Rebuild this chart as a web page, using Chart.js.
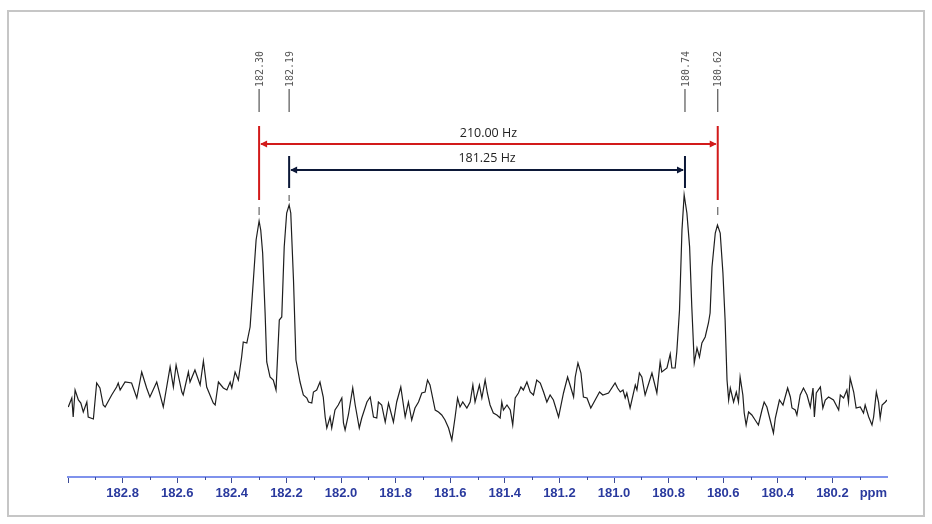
<!DOCTYPE html>
<html lang="en">
<head>
  <meta charset="UTF-8">
  <title>13C NMR</title>
  <script src="https://cdn.jsdelivr.net/npm/chart.js"></script>
  <style>
    html, body { margin: 0; padding: 0; background: #fff; }
    #wrap { position: relative; width: 932px; height: 524px; }
    #frame { position: absolute; left: 7px; top: 10px; width: 914px; height: 503px; border: 2px solid #c6c6c6; pointer-events: none; }
    canvas { position: absolute; left: 0; top: 0; }
  </style>
</head>
<body>
<div id="wrap">
  <canvas id="nmr" width="932" height="524"></canvas>
  <div id="frame"></div>
</div>
<script>
  // chemical shift (ppm) and intensity
  const ppm = [
    182.999, 182.986, 182.981, 182.974, 182.962, 182.953, 182.944, 182.931, 182.926, 182.907,
    182.895, 182.883, 182.871, 182.864, 182.840, 182.822, 182.816, 182.809, 182.791, 182.767,
    182.748, 182.730, 182.712, 182.700, 182.675, 182.651, 182.626, 182.614, 182.604, 182.583,
    182.578, 182.559, 182.553, 182.535, 182.516, 182.504, 182.492, 182.468, 182.461, 182.449,
    182.431, 182.418, 182.406, 182.400, 182.388, 182.376, 182.364, 182.358, 182.345, 182.333,
    182.321, 182.311, 182.300, 182.294, 182.287, 182.278, 182.272, 182.260, 182.248, 182.238,
    182.226, 182.217, 182.208, 182.199, 182.190, 182.184, 182.174, 182.165, 182.150, 182.138,
    182.125, 182.119, 182.107, 182.101, 182.089, 182.077, 182.065, 182.058, 182.052, 182.040,
    182.034, 182.022, 182.010, 181.997, 181.991, 181.985, 181.973, 181.957, 181.948, 181.933,
    181.924, 181.905, 181.893, 181.881, 181.869, 181.863, 181.851, 181.838, 181.826, 181.808,
    181.796, 181.781, 181.765, 181.753, 181.741, 181.729, 181.716, 181.704, 181.692, 181.683,
    181.674, 181.655, 181.643, 181.631, 181.619, 181.606, 181.594, 181.582, 181.573, 181.564,
    181.554, 181.539, 181.527, 181.517, 181.509, 181.493, 181.484, 181.472, 181.464, 181.454,
    181.442, 181.429, 181.417, 181.411, 181.405, 181.392, 181.380, 181.371, 181.362, 181.350,
    181.341, 181.332, 181.319, 181.307, 181.295, 181.283, 181.270, 181.258, 181.246, 181.234,
    181.222, 181.203, 181.185, 181.170, 181.161, 181.148, 181.142, 181.132, 181.121, 181.112,
    181.099, 181.085, 181.069, 181.053, 181.041, 181.020, 180.996, 180.987, 180.977, 180.967,
    180.959, 180.953, 180.941, 180.922, 180.916, 180.907, 180.898, 180.886, 180.861, 180.843,
    180.831, 180.825, 180.806, 180.794, 180.788, 180.776, 180.770, 180.760, 180.751, 180.743,
    180.733, 180.723, 180.715, 180.706, 180.696, 180.687, 180.678, 180.666, 180.654, 180.648,
    180.641, 180.629, 180.621, 180.611, 180.601, 180.593, 180.586, 180.580, 180.574, 180.562,
    180.552, 180.544, 180.538, 180.528, 180.523, 180.516, 180.507, 180.495, 180.483, 180.471,
    180.458, 180.450, 180.440, 180.428, 180.416, 180.409, 180.394, 180.381, 180.364, 180.354,
    180.348, 180.336, 180.330, 180.318, 180.306, 180.293, 180.281, 180.271, 180.266, 180.259,
    180.244, 180.235, 180.226, 180.214, 180.196, 180.177, 180.171, 180.159, 180.147, 180.141,
    180.135, 180.122, 180.113, 180.098, 180.086, 180.080, 180.067, 180.055, 180.049, 180.039,
    180.031, 180.025, 180.018, 180.006, 180.000
  ];
  const intensity = [
    70, 79, 60, 87, 77, 74, 65, 75, 60, 58,
    94, 89, 72, 70, 82, 90, 94, 87, 95, 94,
    79, 105, 89, 80, 95, 70, 110, 90, 112, 85,
    82, 105, 95, 107, 92, 116, 90, 74, 72, 95,
    89, 87, 95, 89, 105, 97, 120, 135, 134, 150,
    197, 237, 256, 247, 224, 164, 115, 100, 97, 87,
    157, 160, 230, 264, 272, 264, 197, 117, 95, 82,
    79, 75, 74, 85, 87, 95, 80, 60, 49, 60,
    49, 67, 72, 79, 54, 47, 62, 89, 72, 49,
    59, 75, 80, 60, 59, 75, 72, 55, 74, 55,
    75, 90, 60, 75, 57, 69, 75, 84, 85, 97,
    92, 67, 65, 62, 57, 49, 37, 60, 79, 70,
    75, 69, 75, 92, 75, 92, 79, 97, 84, 72,
    64, 62, 59, 75, 67, 72, 67, 52, 79, 84,
    90, 87, 95, 85, 82, 97, 94, 85, 75, 82,
    77, 60, 84, 100, 92, 80, 100, 114, 104, 80,
    79, 69, 77, 85, 82, 84, 94, 89, 85, 87,
    79, 84, 69, 92, 87, 104, 100, 82, 104, 84,
    115, 105, 109, 123, 109, 109, 125, 167, 247, 282,
    264, 230, 170, 114, 129, 120, 134, 140, 154, 164,
    210, 244, 252, 244, 204, 157, 97, 77, 89, 75,
    85, 75, 100, 82, 64, 52, 65, 62, 57, 52,
    67, 75, 70, 57, 44, 59, 77, 72, 89, 80,
    69, 67, 62, 82, 89, 82, 70, 89, 60, 84,
    90, 69, 77, 80, 77, 67, 82, 79, 87, 75,
    99, 85, 69, 70, 64, 72, 60, 52, 60, 85,
    75, 59, 72, 75, 77
  ];

  // picked peaks and the two couplings marked above them
  const peaks = [182.30, 182.19, 180.74, 180.62];
  const peakHeights = [256, 272, 282, 252];
  const couplingFrom = [182.30, 182.19];
  const couplingTo = [180.62, 180.74];
  const couplingLabels = ['210.00 Hz', '181.25 Hz'];
  const axisUnit = 'ppm';

  const spectrum = ppm.map((p, i) => ({ x: p, y: intensity[i] }));

  // arrows, peak labels, minor ticks, unit
  const notes = {
    id: 'notes',
    afterDraw(chart) {
      const { ctx, scales: { x, y } } = chart;
      const cfg = [
        { color: '#d21a1a', top: 351, bottom: 277, level: 333, text: 344 },
        { color: '#0c1838', top: 321, bottom: 289, level: 307, text: 319 }
      ];
      ctx.save();

      cfg.forEach((c, i) => {
        const x1 = x.getPixelForValue(couplingFrom[i]);
        const x2 = x.getPixelForValue(couplingTo[i]);
        const yt = y.getPixelForValue(c.top);
        const yb = y.getPixelForValue(c.bottom);
        const yl = y.getPixelForValue(c.level);
        ctx.strokeStyle = c.color;
        ctx.fillStyle = c.color;
        ctx.lineWidth = 2;
        ctx.beginPath();
        ctx.moveTo(x1, yt); ctx.lineTo(x1, yb);
        ctx.moveTo(x2, yt); ctx.lineTo(x2, yb);
        ctx.moveTo(x1 + 2, yl); ctx.lineTo(x2 - 2, yl);
        ctx.stroke();
        // arrow heads
        ctx.beginPath();
        ctx.moveTo(x1 + 1, yl); ctx.lineTo(x1 + 8, yl - 3.5); ctx.lineTo(x1 + 8, yl + 3.5); ctx.closePath();
        ctx.moveTo(x2 - 1, yl); ctx.lineTo(x2 - 8, yl - 3.5); ctx.lineTo(x2 - 8, yl + 3.5); ctx.closePath();
        ctx.fill();
        ctx.fillStyle = '#222';
        ctx.font = '12.5px "Open Sans", "Liberation Sans", sans-serif';
        ctx.textAlign = 'center';
        ctx.textBaseline = 'middle';
        ctx.fillText(couplingLabels[i], (x1 + x2) / 2, y.getPixelForValue(c.text));

        // small grey marks between the bar end and the peak
        [couplingFrom[i], couplingTo[i]].forEach(p => {
          const k = peaks.indexOf(p);
          const hi = c.bottom - 7;
          const lo = Math.max(c.bottom - 15, peakHeights[k] + 4);
          if (hi - lo < 2) return;
          const px = x.getPixelForValue(p);
          ctx.strokeStyle = '#666';
          ctx.lineWidth = 1.2;
          ctx.beginPath();
          ctx.moveTo(px, y.getPixelForValue(hi));
          ctx.lineTo(px, y.getPixelForValue(lo));
          ctx.stroke();
        });
      });

      // vertical peak labels
      peaks.forEach(p => {
        const px = x.getPixelForValue(p);
        ctx.strokeStyle = '#555';
        ctx.lineWidth = 1.2;
        ctx.beginPath();
        ctx.moveTo(px, y.getPixelForValue(365));
        ctx.lineTo(px, y.getPixelForValue(388));
        ctx.stroke();
        ctx.save();
        ctx.translate(px + 1, y.getPixelForValue(390));
        ctx.rotate(-Math.PI / 2);
        ctx.fillStyle = '#555';
        ctx.font = '10px "DejaVu Sans Mono", monospace';
        ctx.textAlign = 'left';
        ctx.textBaseline = 'middle';
        ctx.fillText(p.toFixed(2), 0, 0);
        ctx.restore();
      });

      // minor ticks and the unit
      const base = chart.chartArea.bottom;
      ctx.strokeStyle = '#3b4a94';
      ctx.lineWidth = 1;
      ctx.beginPath();
      for (let v = 180.1; v < 183; v += 0.2) {
        const px = Math.round(x.getPixelForValue(v)) + 0.5;
        ctx.moveTo(px, base); ctx.lineTo(px, base + 3);
      }
      ctx.stroke();
      ctx.fillStyle = '#2a3a9e';
      ctx.font = 'bold 13px "Liberation Sans", Arial, sans-serif';
      ctx.textAlign = 'center';
      ctx.textBaseline = 'middle';
      ctx.fillText(axisUnit, x.getPixelForValue(180.05), base + 16);
      ctx.restore();
    }
  };

  new Chart(document.getElementById('nmr'), {
    type: 'line',
    data: {
      datasets: [{
        data: spectrum,
        borderColor: '#1e1e1e',
        borderWidth: 1.2,
        pointRadius: 0,
        tension: 0,
        fill: false
      }]
    },
    options: {
      responsive: false,
      devicePixelRatio: 1,
      animation: false,
      layout: { padding: { left: 68, right: 45, top: 17, bottom: 0 } },
      plugins: { legend: { display: false }, tooltip: { enabled: false } },
      scales: {
        x: {
          type: 'linear',
          reverse: true,
          min: 180,
          max: 183,
          afterFit: (scale) => { scale.height = 47; },
          border: { display: true, color: '#7f92ec', width: 2 },
          grid: {
            drawOnChartArea: false,
            drawTicks: true,
            tickLength: 6,
            tickColor: (c) => (c.tick && Math.abs(c.tick.value - 180) < 0.01) ? 'rgba(0,0,0,0)' : '#3b4a94'
          },
          ticks: {
            stepSize: 0.2,
            autoSkip: false,
            maxRotation: 0,
            padding: 3,
            color: '#2a3a9e',
            font: { family: '"Liberation Sans", Arial, sans-serif', size: 13, weight: 'bold' },
            callback: (v) => (Math.abs(v - 183) < 0.01 || Math.abs(v - 180) < 0.01) ? '' : Number(v).toFixed(1)
          }
        },
        y: {
          display: false,
          min: 0,
          max: 460
        }
      }
    },
    plugins: [notes]
  });
</script>
</body>
</html>
